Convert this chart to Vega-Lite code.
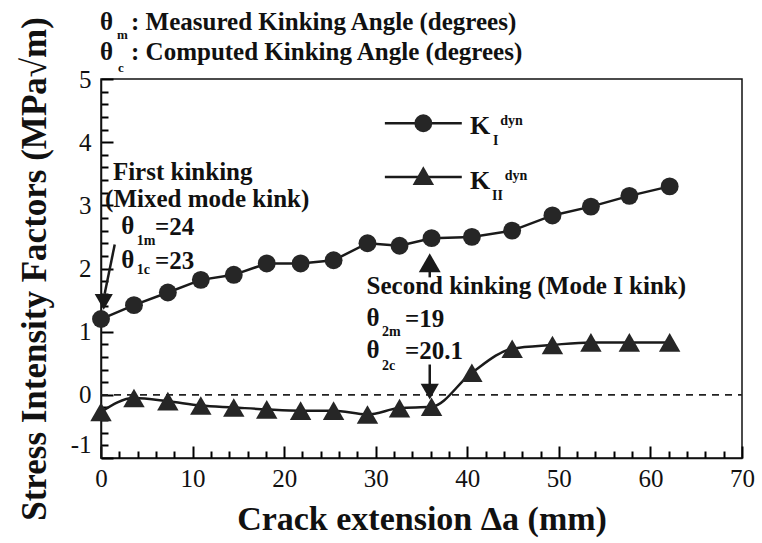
{
  "$schema": "https://vega.github.io/schema/vega-lite/v6.json",
  "width": 641,
  "height": 379,
  "autosize": "none",
  "padding": {"left": 101, "top": 79, "right": 21, "bottom": 85},
  "background": "white",
  "config": {"view": {"stroke": "#111", "strokeWidth": 1.5}, "font": "Liberation Serif"},
  "datasets": {
    "ki": [
      {"x": 0, "y": 1.2}, {"x": 3.6, "y": 1.42}, {"x": 7.3, "y": 1.62}, {"x": 10.9, "y": 1.82},
      {"x": 14.5, "y": 1.9}, {"x": 18.1, "y": 2.08}, {"x": 21.8, "y": 2.08}, {"x": 25.4, "y": 2.13},
      {"x": 29.1, "y": 2.4}, {"x": 32.6, "y": 2.36}, {"x": 36.1, "y": 2.48}, {"x": 40.5, "y": 2.5},
      {"x": 44.9, "y": 2.6}, {"x": 49.3, "y": 2.84}, {"x": 53.5, "y": 2.98}, {"x": 57.7, "y": 3.15},
      {"x": 62.1, "y": 3.3}
    ],
    "kii": [
      {"x": 0, "y": -0.27}, {"x": 3.6, "y": -0.05}, {"x": 7.3, "y": -0.1}, {"x": 10.9, "y": -0.17},
      {"x": 14.5, "y": -0.2}, {"x": 18.1, "y": -0.23}, {"x": 21.8, "y": -0.25}, {"x": 25.4, "y": -0.25},
      {"x": 29.1, "y": -0.31}, {"x": 32.6, "y": -0.21}, {"x": 36.1, "y": -0.19}, {"x": 40.5, "y": 0.35},
      {"x": 44.9, "y": 0.73}, {"x": 49.3, "y": 0.79}, {"x": 53.5, "y": 0.83}, {"x": 57.7, "y": 0.83},
      {"x": 62.1, "y": 0.83}
    ],
    "zero": [{"x": 0, "y": 0}, {"x": 70, "y": 0}],
    "xt": [{"v":0},{"v":2},{"v":4},{"v":6},{"v":8},{"v":10},{"v":12},{"v":14},{"v":16},{"v":18},{"v":20},{"v":22},{"v":24},{"v":26},{"v":28},{"v":30},{"v":32},{"v":34},{"v":36},{"v":38},{"v":40},{"v":42},{"v":44},{"v":46},{"v":48},{"v":50},{"v":52},{"v":54},{"v":56},{"v":58},{"v":60},{"v":62},{"v":64},{"v":66},{"v":68},{"v":70}],
    "yt": [{"v":-1},{"v":-0.8},{"v":-0.6},{"v":-0.4},{"v":-0.2},{"v":0},{"v":0.2},{"v":0.4},{"v":0.6},{"v":0.8},{"v":1},{"v":1.2},{"v":1.4},{"v":1.6},{"v":1.8},{"v":2},{"v":2.2},{"v":2.4},{"v":2.6},{"v":2.8},{"v":3},{"v":3.2},{"v":3.4},{"v":3.6},{"v":3.8},{"v":4},{"v":4.2},{"v":4.4},{"v":4.6},{"v":4.8},{"v":5}],
    "legline": [
      {"s": "KI", "x": 31.0, "y": 4.3}, {"s": "KI", "x": 39.4, "y": 4.3},
      {"s": "KII", "x": 31.0, "y": 3.45}, {"s": "KII", "x": 39.4, "y": 3.45}
    ],
    "legc": [{"x": 35.2, "y": 4.3}],
    "legt": [{"x": 35.2, "y": 3.47}],
    "stems": [
      {"id": "a1", "x": 1.5, "y": 2.38}, {"id": "a1", "x": 0.4, "y": 1.6},
      {"id": "a2", "x": 35.9, "y": 1.86}, {"id": "a2", "x": 35.9, "y": 2.05},
      {"id": "a3", "x": 35.9, "y": 0.48}, {"id": "a3", "x": 35.9, "y": 0.15}
    ],
    "headsdown": [{"x": 0.3, "y": 1.47}, {"x": 35.9, "y": 0.05}],
    "headsup": [{"x": 35.9, "y": 2.09}],
    "top": [
      {"x": -0.11, "y": 5.91, "t": "θ"}, {"x": 3.28, "y": 5.91, "t": ": Measured Kinking Angle (degrees)"},
      {"x": -0.11, "y": 5.43, "t": "θ"}, {"x": 3.28, "y": 5.43, "t": ": Computed Kinking Angle (degrees)"}
    ],
    "ann": [
      {"x": 1.3, "y": 3.52, "t": "First kinking"},
      {"x": 0.45, "y": 3.1, "t": "(Mixed mode kink)"},
      {"x": 2.2, "y": 2.67, "t": "θ"}, {"x": 5.9, "y": 2.66, "t": "=24"},
      {"x": 2.2, "y": 2.13, "t": "θ"}, {"x": 5.9, "y": 2.12, "t": "=23"},
      {"x": 29.0, "y": 1.72, "t": "Second kinking (Mode I kink)"},
      {"x": 29.0, "y": 1.21, "t": "θ"}, {"x": 33.2, "y": 1.2, "t": "=19"},
      {"x": 29.0, "y": 0.71, "t": "θ"}, {"x": 33.2, "y": 0.7, "t": "=20.1"}
    ],
    "subs": [
      {"x": 3.9, "y": 2.43, "t": "1m"}, {"x": 3.9, "y": 1.97, "t": "1c"},
      {"x": 30.7, "y": 0.99, "t": "2m"}, {"x": 30.7, "y": 0.45, "t": "2c"},
      {"x": 43.6, "y": 4.34, "t": "dyn"}, {"x": 42.8, "y": 4.02, "t": "I"},
      {"x": 44.1, "y": 3.47, "t": "dyn"}, {"x": 42.7, "y": 3.15, "t": "II"}
    ],
    "topsubs": [{"x": 1.75, "y": 5.69, "t": "m"}, {"x": 1.85, "y": 5.18, "t": "c"}],
    "legk": [{"x": 40.3, "y": 4.25, "t": "K"}, {"x": 40.3, "y": 3.38, "t": "K"}]
  },
  "encoding": {
    "x": {"field": "x", "type": "quantitative", "scale": {"domain": [0, 70], "nice": false, "zero": false}, "axis": null},
    "y": {"field": "y", "type": "quantitative", "scale": {"domain": [-1, 5], "nice": false, "zero": false}, "axis": null}
  },
  "resolve": {"axis": {"x": "independent", "y": "independent"}},
  "layer": [
    {
      "data": {"name": "zero"},
      "mark": {"type": "line", "color": "#222", "strokeWidth": 1.6, "strokeDash": [7, 6]}
    },
    {
      "data": {"name": "xt"},
      "transform": [{"filter": "datum.v % 10 !== 0"}],
      "mark": {"type": "rule", "color": "#000", "strokeWidth": 1.8},
      "encoding": {
        "x": {"field": "v", "type": "quantitative", "scale": {"domain": [0, 70], "nice": false, "zero": false}, "axis": null},
        "y": {"datum": -1, "type": "quantitative"},
        "y2": {"datum": -0.89}
      }
    },
    {
      "data": {"name": "xt"},
      "transform": [{"filter": "datum.v % 10 === 0"}],
      "mark": {"type": "rule", "color": "#000", "strokeWidth": 1.8},
      "encoding": {
        "x": {"field": "v", "type": "quantitative", "scale": {"domain": [0, 70], "nice": false, "zero": false}, "axis": null},
        "y": {"datum": -1, "type": "quantitative"},
        "y2": {"datum": -0.81}
      }
    },
    {
      "data": {"name": "xt"},
      "transform": [{"filter": "datum.v % 10 !== 0"}],
      "mark": {"type": "rule", "color": "#000", "strokeWidth": 1.8},
      "encoding": {
        "x": {"field": "v", "type": "quantitative", "scale": {"domain": [0, 70], "nice": false, "zero": false}, "axis": null},
        "y": {"datum": 5, "type": "quantitative"},
        "y2": {"datum": 4.89}
      }
    },
    {
      "data": {"name": "xt"},
      "transform": [{"filter": "datum.v % 10 === 0"}],
      "mark": {"type": "rule", "color": "#000", "strokeWidth": 1.8},
      "encoding": {
        "x": {"field": "v", "type": "quantitative", "scale": {"domain": [0, 70], "nice": false, "zero": false}, "axis": null},
        "y": {"datum": 5, "type": "quantitative"},
        "y2": {"datum": 4.81}
      }
    },
    {
      "data": {"name": "yt"},
      "transform": [{"filter": "abs(datum.v - round(datum.v)) > 0.001"}],
      "mark": {"type": "rule", "color": "#000", "strokeWidth": 1.8},
      "encoding": {
        "y": {"field": "v", "type": "quantitative", "scale": {"domain": [-1, 5], "nice": false, "zero": false}, "axis": null},
        "x": {"datum": 0, "type": "quantitative"},
        "x2": {"datum": 0.76}
      }
    },
    {
      "data": {"name": "yt"},
      "transform": [{"filter": "abs(datum.v - round(datum.v)) < 0.001"}],
      "mark": {"type": "rule", "color": "#000", "strokeWidth": 1.8},
      "encoding": {
        "y": {"field": "v", "type": "quantitative", "scale": {"domain": [-1, 5], "nice": false, "zero": false}, "axis": null},
        "x": {"datum": 0, "type": "quantitative"},
        "x2": {"datum": 1.31}
      }
    },
    {
      "data": {"name": "yt"},
      "transform": [{"filter": "abs(datum.v - round(datum.v)) > 0.001"}],
      "mark": {"type": "rule", "color": "#000", "strokeWidth": 1.8},
      "encoding": {
        "y": {"field": "v", "type": "quantitative", "scale": {"domain": [-1, 5], "nice": false, "zero": false}, "axis": null},
        "x": {"datum": 70, "type": "quantitative"},
        "x2": {"datum": 69.24}
      }
    },
    {
      "data": {"name": "yt"},
      "transform": [{"filter": "abs(datum.v - round(datum.v)) < 0.001"}],
      "mark": {"type": "rule", "color": "#000", "strokeWidth": 1.8},
      "encoding": {
        "y": {"field": "v", "type": "quantitative", "scale": {"domain": [-1, 5], "nice": false, "zero": false}, "axis": null},
        "x": {"datum": 70, "type": "quantitative"},
        "x2": {"datum": 68.69}
      }
    },
    {
      "data": {"name": "ki"},
      "mark": {"type": "line", "color": "#1a1a1a", "strokeWidth": 2.5},
      "encoding": {
        "x": {
          "field": "x", "type": "quantitative",
          "scale": {"domain": [0, 70], "nice": false, "zero": false},
          "axis": {
            "orient": "bottom", "ticks": true,
            "values": [0,2,4,6,8,10,12,14,16,18,20,22,24,26,28,30,32,34,36,38,40,42,44,46,48,50,52,54,56,58,60,62,64,66,68,70],
            "labelExpr": "datum.value % 10 === 0 ? datum.label : ''",
            "tickSize": {"expr": "datum.value % 10 === 0 ? -12 : -7"},
            "tickColor": "black", "tickWidth": 2, "domainColor": "#111", "domainWidth": 1.5,
            "labelFont": "Liberation Serif", "labelFontSize": 25, "labelColor": "#111",
            "labelPadding": 20, "labelOverlap": false, "labelFlush": false, "grid": false,
            "title": "Crack extension Δa (mm)", "titleFont": "Liberation Serif", "titleFontSize": 34,
            "titleFontWeight": "bold", "titlePadding": 6, "titleColor": "#111"
          }
        },
        "y": {
          "field": "y", "type": "quantitative",
          "scale": {"domain": [-1, 5], "nice": false, "zero": false},
          "axis": {
            "orient": "left", "ticks": true,
            "values": [-1,-0.8,-0.6,-0.4,-0.2,0,0.2,0.4,0.6,0.8,1,1.2,1.4,1.6,1.8,2,2.2,2.4,2.6,2.8,3,3.2,3.4,3.6,3.8,4,4.2,4.4,4.6,4.8,5],
            "labelExpr": "abs(datum.value - round(datum.value)) < 0.001 ? '' + round(datum.value) : ''",
            "tickSize": {"expr": "abs(datum.value - round(datum.value)) < 0.001 ? -12 : -7"},
            "labelOffset": {"condition": {"test": "datum.value === -1", "value": -14}, "value": 0},
            "tickColor": "black", "tickWidth": 2, "domainColor": "#111", "domainWidth": 1.5,
            "labelFont": "Liberation Serif", "labelFontSize": 25, "labelColor": "#111",
            "labelPadding": 22, "labelOverlap": false, "labelFlush": false, "grid": false,
            "title": "Stress Intensity Factors (MPa√m)", "titleFont": "Liberation Serif", "titleFontSize": 35,
            "titleFontWeight": "bold", "titlePadding": 18, "titleColor": "#111"
          }
        }
      }
    },
    {
      "data": {"name": "ki"},
      "mark": {"type": "point", "shape": "circle", "filled": true, "size": 320, "color": "#262626", "opacity": 1}
    },
    {
      "data": {"name": "kii"},
      "mark": {"type": "line", "color": "#1a1a1a", "strokeWidth": 2.5, "interpolate": "monotone"}
    },
    {
      "data": {"name": "kii"},
      "mark": {"type": "point", "shape": "triangle-up", "filled": true, "size": 460, "color": "#262626", "opacity": 1}
    },
    {
      "data": {"name": "legline"},
      "mark": {"type": "line", "color": "#1a1a1a", "strokeWidth": 2.5},
      "encoding": {"detail": {"field": "s"}}
    },
    {
      "data": {"name": "legc"},
      "mark": {"type": "point", "shape": "circle", "filled": true, "size": 320, "color": "#262626", "opacity": 1}
    },
    {
      "data": {"name": "legt"},
      "mark": {"type": "point", "shape": "triangle-up", "filled": true, "size": 460, "color": "#262626", "opacity": 1}
    },
    {
      "data": {"name": "stems"},
      "mark": {"type": "line", "color": "#1a1a1a", "strokeWidth": 2.5},
      "encoding": {"detail": {"field": "id"}}
    },
    {
      "data": {"name": "headsdown"},
      "mark": {"type": "point", "shape": "triangle-down", "filled": true, "size": 330, "color": "#1a1a1a", "opacity": 1}
    },
    {
      "data": {"name": "headsup"},
      "mark": {"type": "point", "shape": "triangle-up", "filled": true, "size": 480, "color": "#1a1a1a", "opacity": 1}
    },
    {
      "data": {"name": "top"},
      "mark": {"type": "text", "align": "left", "baseline": "middle", "font": "Liberation Serif", "fontWeight": "bold", "fontSize": 25, "color": "#111"},
      "encoding": {"text": {"field": "t"}}
    },
    {
      "data": {"name": "topsubs"},
      "mark": {"type": "text", "align": "left", "baseline": "middle", "font": "Liberation Serif", "fontWeight": "bold", "fontSize": 13, "color": "#111"},
      "encoding": {"text": {"field": "t"}}
    },
    {
      "data": {"name": "ann"},
      "mark": {"type": "text", "align": "left", "baseline": "middle", "font": "Liberation Serif", "fontWeight": "bold", "fontSize": 25, "color": "#111"},
      "encoding": {"text": {"field": "t"}}
    },
    {
      "data": {"name": "subs"},
      "mark": {"type": "text", "align": "left", "baseline": "middle", "font": "Liberation Serif", "fontWeight": "bold", "fontSize": 14, "color": "#111"},
      "encoding": {"text": {"field": "t"}}
    },
    {
      "data": {"name": "legk"},
      "mark": {"type": "text", "align": "left", "baseline": "middle", "font": "Liberation Serif", "fontWeight": "bold", "fontSize": 26, "color": "#111"},
      "encoding": {"text": {"field": "t"}}
    }
  ]
}
